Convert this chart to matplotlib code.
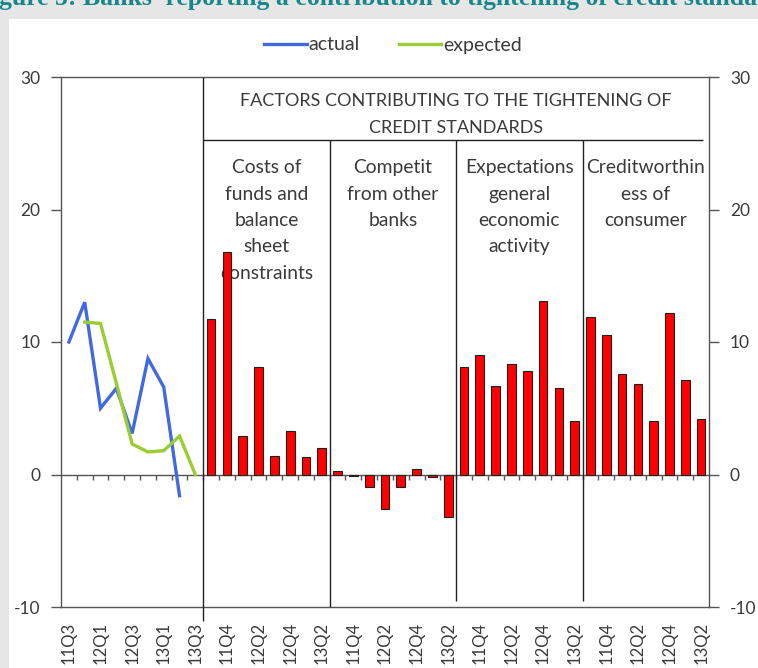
import numpy as np
import matplotlib
matplotlib.use("Agg")
import matplotlib.pyplot as plt
from matplotlib.patches import Rectangle
from matplotlib.lines import Line2D

plt.rcParams['axes.unicode_minus'] = False

# ---------------- data ----------------
line_quarters = ['11Q3', '11Q4', '12Q1', '12Q2', '12Q3', '12Q4', '13Q1', '13Q2', '13Q3']
bar_quarters = ['11Q3', '11Q4', '12Q1', '12Q2', '12Q3', '12Q4', '13Q1', '13Q2']
actual = [10.0, 13.0, 5.0, 6.5, 3.1, 8.75, 6.6, -1.6, np.nan]
expected = [np.nan, 11.5, 11.4, 6.9, 2.3, 1.7, 1.8, 2.9, 0.0]
factor_names = ['Costs of\nfunds and\nbalance\nsheet\nconstraints',
                'Competit\nfrom other\nbanks',
                'Expectations\ngeneral\neconomic\nactivity',
                'Creditworthin\ness of\nconsumer']
cost_of_funds = [11.7, 16.8, 2.9, 8.1, 1.4, 3.3, 1.3, 2.0]
competition = [0.3, -0.1, -0.95, -2.6, -0.95, 0.45, -0.2, -3.2]
expectations = [8.1, 9.05, 6.7, 8.35, 7.8, 13.1, 6.55, 4.05]
creditworthiness = [11.9, 10.5, 7.6, 6.85, 4.05, 12.2, 7.1, 4.2]
header_text = 'FACTORS CONTRIBUTING TO THE TIGHTENING OF\nCREDIT STANDARDS'
series_names = ['actual', 'expected']
y_ticks = [-10, 0, 10, 20, 30]
title_text = "Figure 5: Banks' reporting a contribution to tightening of credit standards"

# ---------------- layout ----------------
W, H, DPI = 758, 668, 100
FONT = 'Lato'
TXT = '#3a3a3a'
BLUE = '#4169E1'
GREEN = '#9ACD32'

fig = plt.figure(figsize=(W / DPI, H / DPI), dpi=DPI, facecolor='#E6E6E6')
fig.patches.append(Rectangle((9 / W, 0), 1 - 9 / W, (H - 19) / H,
                             transform=fig.transFigure, facecolor='white',
                             edgecolor='none', zorder=-10))
fig.text(-24 / W, 1 - 5 / H, title_text, fontsize=18.5, fontweight='bold',
         family='Liberation Serif', color='#17878B', ha='left', va='baseline')

ax = fig.add_axes([61 / W, (H - 607) / H, 648 / W, 530 / H])
ax.set_facecolor('none')
ax.set_zorder(2)

all_labels = line_quarters + bar_quarters * len(factor_names)
n = len(all_labels)
x_all = np.arange(n)
n_line = len(line_quarters)
n_bar = len(bar_quarters)

ax.set_xlim(-0.5, n - 0.5)
ax.set_ylim(y_ticks[0], y_ticks[-1])

# lines
ax.plot(x_all[:n_line], actual, color=BLUE, lw=2.4, zorder=5, solid_joinstyle='miter')
ax.plot(x_all[:n_line], expected, color=GREEN, lw=2.4, zorder=5, solid_joinstyle='miter')

# bars
groups = [cost_of_funds, competition, expectations, creditworthiness]
for g, vals in enumerate(groups):
    xs = x_all[n_line + g * n_bar: n_line + (g + 1) * n_bar]
    ax.bar(xs, vals, width=0.55, color='#FF0000', edgecolor='#202020',
           linewidth=0.8, zorder=4)

# zero line and its small category ticks
ax.axhline(0, color='#555555', lw=1.0, zorder=3)
ax.vlines(np.arange(0.5, n - 1, 1.0), 0, -0.4, color='#555555', lw=1.0, zorder=3)

# section structure
y_hdr = 25.25
first = n_line - 0.5
ax.vlines(first, -11.06, y_ticks[-1], color='#222222', lw=1.0, clip_on=False, zorder=3)
bounds = [n_line - 0.5 + k * n_bar for k in range(1, len(groups))]
ends = [-10, -9.55, -9.55]
for b, e in zip(bounds, ends):
    ax.vlines(b, e, y_hdr, color='#222222', lw=1.0, zorder=3)
ax.hlines(y_hdr, first, n - 0.9, color='#222222', lw=1.0, zorder=3)

ax.text((first + n - 0.5) / 2, 28.8, header_text, ha='center', va='top',
        fontsize=13, family=FONT, color=TXT, linespacing=1.82, zorder=2)
for g, name in enumerate(factor_names):
    cx = n_line + g * n_bar + (n_bar - 1) / 2
    ax.text(cx, 23.8, name, ha='center', va='top', fontsize=13.9, family=FONT,
            color=TXT, linespacing=1.67, zorder=2)

# axes styling
for s in ax.spines.values():
    s.set_color('#555555')
    s.set_linewidth(1.0)
ax.set_yticks(y_ticks)
ax.tick_params(axis='y', which='both', left=True, right=True, labelleft=True,
               labelright=True, direction='out', length=7, width=1,
               color='#555555', labelsize=12.5, labelcolor=TXT, pad=8)
for lab in ax.get_yticklabels():
    lab.set_family(FONT)
ax.set_xticks(x_all[::2])
ax.set_xticklabels(all_labels[::2], rotation=90, fontsize=12, family=FONT,
                   color=TXT, va='top', ha='center')
ax.tick_params(axis='x', length=0, pad=11)

# legend
handles = [Line2D([], [], color=BLUE, lw=2.4), Line2D([], [], color=GREEN, lw=2.4)]
leg = fig.legend(handles, series_names, loc='center', bbox_to_anchor=(393 / W, 1 - 45 / H),
                 ncol=2, frameon=False, handlelength=2.2, handletextpad=0.1,
                 columnspacing=2.0, prop={'family': FONT, 'size': 14})
for t in leg.get_texts():
    t.set_color(TXT)

fig.savefig('out.png', dpi=DPI, facecolor=fig.get_facecolor())
